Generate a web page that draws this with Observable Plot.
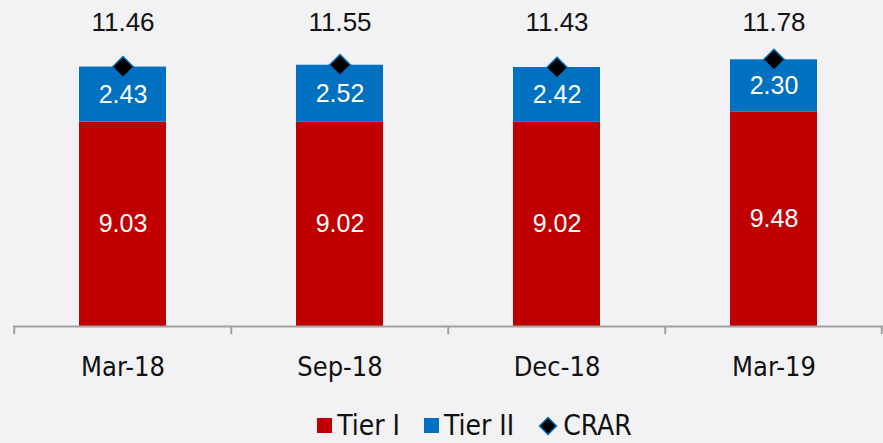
<!DOCTYPE html>
<html>
<head>
<meta charset="utf-8">
<script src="https://cdn.jsdelivr.net/npm/d3@7"></script>
<script src="https://cdn.jsdelivr.net/npm/@observablehq/plot@0.6"></script>
<style>
  html, body { margin: 0; padding: 0; background: #f2f2f4; }
  #chart svg { display: block; background: #f2f2f4; }
  .legend { display: flex; justify-content: center; align-items: center; height: 43px; padding-left: 66px; padding-top: 8px; box-sizing: border-box;
    font-family: "DejaVu Sans Condensed", "DejaVu Sans", sans-serif; font-stretch: condensed; font-size: 28px; color: #111; }
  .legend .item { display: flex; align-items: center; margin-right: 24px; }
  .legend .item:last-child { margin-right: 0; }
  .legend svg { margin-right: 5px; }
</style>
</head>
<body>
<div id="chart"></div>
<div class="legend">
  <div class="item"><svg width="15" height="15"><rect width="15" height="15" fill="#c00000"/></svg><span>Tier I</span></div>
  <div class="item"><svg width="15" height="15"><rect width="15" height="15" fill="#0070c0"/></svg><span>Tier II</span></div>
  <div class="item"><svg width="20" height="20"><path d="M10,1.5L18.5,10L10,18.5L1.5,10Z" fill="#000" stroke="#0070c0" stroke-width="1.5"/></svg><span>CRAR</span></div>
</div>
<script>
const categories = ["Mar-18", "Sep-18", "Dec-18", "Mar-19"];
const tier1 = [9.03, 9.02, 9.02, 9.48];
const tier2 = [2.43, 2.52, 2.42, 2.30];
const crar = [11.46, 11.55, 11.43, 11.78];

const stacked = [];
categories.forEach((c, i) => {
  stacked.push({cat: c, series: "Tier I", value: tier1[i], mid: tier1[i] / 2});
  stacked.push({cat: c, series: "Tier II", value: tier2[i], mid: tier1[i] + tier2[i] / 2});
});
const totals = categories.map((c, i) => ({cat: c, crar: crar[i]}));

const W = 883, H = 400, ML = 13, MR = 0;
const step = (W - ML - MR) / categories.length;

const chart = Plot.plot({
  width: W,
  height: H,
  marginLeft: ML,
  marginRight: MR,
  marginTop: 0,
  marginBottom: 74,
  style: {background: "#f2f2f4", overflow: "visible"},
  x: {domain: categories, paddingInner: 0.6, paddingOuter: 0.3, label: null},
  y: {domain: [0, 14.4], axis: null},
  color: {domain: ["Tier I", "Tier II"], range: ["#c00000", "#0070c0"]},
  marks: [
    Plot.barY(stacked, {x: "cat", y: "value", fill: "series", order: ["Tier I", "Tier II"]}),
    Plot.ruleY([0], {stroke: "#a0a0a0", strokeWidth: 2}),
    Plot.ruleX(categories, {x: d => d, dx: -step / 2, y1: 0, y2: -0.36, stroke: "#a0a0a0", strokeWidth: 2, clip: false}),
    Plot.ruleX(categories.slice(-1), {x: d => d, dx: step / 2 - 1, y1: 0, y2: -0.36, stroke: "#a0a0a0", strokeWidth: 2, clip: false}),
    Plot.axisX({tickSize: 0, tickPadding: 30, fontSize: 27,
      fontFamily: "DejaVu Sans Condensed, DejaVu Sans, sans-serif", fill: "#111"}),
    Plot.text(stacked, {x: "cat", y: "mid", text: d => d.value.toFixed(2), fill: "white",
      fontSize: 25, fontFamily: "Liberation Sans, Arial, sans-serif"}),
    Plot.dot(totals, {x: "cat", y: "crar", symbol: "diamond2", r: 9.5, fill: "#000", stroke: "#0070c0", strokeWidth: 1.5}),
    Plot.text(totals, {x: "cat", frameAnchor: "top", dy: 22, lineAnchor: "middle", text: d => d.crar.toFixed(2), fill: "#111",
      fontSize: 26, fontFamily: "Liberation Sans, Arial, sans-serif"})
  ]
});
document.getElementById("chart").append(chart);
</script>
</body>
</html>
